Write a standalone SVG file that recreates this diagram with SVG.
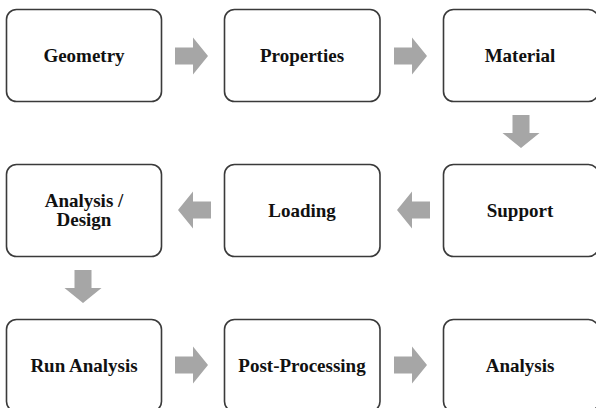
<svg xmlns="http://www.w3.org/2000/svg" width="596" height="408" viewBox="0 0 596 408">
<style>
.box{fill:#fff;stroke:#3a3a3a;stroke-width:1.6}
.lbl{font-family:"Liberation Serif","Times New Roman",serif;font-weight:bold;font-size:19px;fill:#111;text-anchor:middle}
.arr{fill:#a6a6a6}
</style>
<defs>
<path id="ar" d="M0,-8.5 H18 V-18.5 L33,0 L18,18.5 V8.5 H0 Z"/>
</defs>
<rect width="596" height="408" fill="#fff"/>
<g id="geometry"><rect class="box" x="6.5" y="9.5" width="155" height="92" rx="10"/><text class="lbl" x="84" y="62">Geometry</text></g>
<g id="properties"><rect class="box" x="224.5" y="9.5" width="155.5" height="92" rx="10"/><text class="lbl" x="302" y="62">Properties</text></g>
<g id="material"><rect class="box" x="443.5" y="9.5" width="155" height="92" rx="10"/><text class="lbl" x="520" y="62">Material</text></g>
<g id="support"><rect class="box" x="443.5" y="164.5" width="155" height="92" rx="10"/><text class="lbl" x="520" y="217">Support</text></g>
<g id="loading"><rect class="box" x="224.5" y="164.5" width="155.5" height="92" rx="10"/><text class="lbl" x="302" y="217">Loading</text></g>
<g id="analysis-design"><rect class="box" x="6.5" y="164.5" width="155" height="92" rx="10"/><text class="lbl" x="84" y="207">Analysis  /</text><text class="lbl" x="84" y="226">Design</text></g>
<g id="run-analysis"><rect class="box" x="6.5" y="319.5" width="155" height="92" rx="10"/><text class="lbl" x="84" y="372">Run Analysis</text></g>
<g id="post-processing"><rect class="box" x="224.5" y="319.5" width="155.5" height="92" rx="10"/><text class="lbl" x="302" y="372">Post-Processing</text></g>
<g id="analysis"><rect class="box" x="443.5" y="319.5" width="155" height="92" rx="10"/><text class="lbl" x="520" y="372">Analysis</text></g>
<g id="connectors" class="arr">
<use href="#ar" transform="translate(175,56)"/>
<use href="#ar" transform="translate(394,56)"/>
<use href="#ar" transform="translate(521,115) rotate(90)"/>
<use href="#ar" transform="translate(430,210) rotate(180)"/>
<use href="#ar" transform="translate(211,210) rotate(180)"/>
<use href="#ar" transform="translate(83,270) rotate(90)"/>
<use href="#ar" transform="translate(175,365)"/>
<use href="#ar" transform="translate(394,365)"/>
</g>
</svg>
